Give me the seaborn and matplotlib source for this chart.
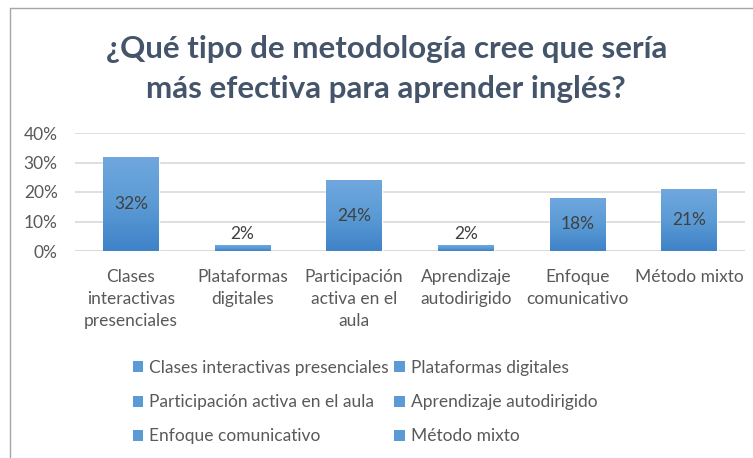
import matplotlib
matplotlib.use("Agg")
import matplotlib.pyplot as plt
import numpy as np
import pandas as pd
import seaborn as sns
from matplotlib.patches import Patch
from matplotlib.lines import Line2D

categories = [
    "Clases interactivas presenciales",
    "Plataformas digitales",
    "Participación activa en el aula",
    "Aprendizaje autodirigido",
    "Enfoque comunicativo",
    "Método mixto",
]
tick_labels = [
    "Clases\ninteractivas\npresenciales",
    "Plataformas\ndigitales",
    "Participación\nactiva en el\naula",
    "Aprendizaje\nautodirigido",
    "Enfoque\ncomunicativo",
    "Método mixto",
]
values = [0.32, 0.02, 0.24, 0.02, 0.18, 0.21]
y_ticks = [0, 0.1, 0.2, 0.3, 0.4]

sns.set_theme(style="white")
plt.rcParams["font.family"] = ["Lato", "DejaVu Sans"]

df = pd.DataFrame({"cat": categories, "val": values})

fig = plt.figure(figsize=(7.53, 4.58), dpi=100)
ax = fig.add_axes([75 / 753, 1 - 251 / 458, 670 / 753, 118 / 458])

sns.barplot(data=df, x="cat", y="val", color="#5B9BD5", width=0.5, ax=ax,
            saturation=1)

# vertical gradient on each bar
grad = np.linspace(0, 1, 256).reshape(-1, 1)
cmap = matplotlib.colors.LinearSegmentedColormap.from_list(
    "g", ["#3F82C7", "#5B9BD5", "#70A7DE"])
for bar in ax.patches:
    x0, y0 = bar.get_x(), bar.get_y()
    w, h = bar.get_width(), bar.get_height()
    im = ax.imshow(grad, extent=[x0, x0 + w, y0, y0 + h], origin="lower",
                   cmap=cmap, aspect="auto", zorder=bar.get_zorder())
    im.set_clip_path(bar)

ax.set_xlim(-0.5, len(categories) - 0.5)
ax.set_ylim(0, 0.4)
ax.set_yticks(y_ticks)
ax.set_yticklabels([f"{int(round(t * 100))}%" for t in y_ticks])
ax.set_xticks(range(len(categories)))
ax.set_xticklabels(tick_labels, linespacing=1.45)
ax.tick_params(axis="both", colors="#595959", labelsize=12.5, length=0)
ax.tick_params(axis="x", pad=13)
ax.tick_params(axis="y", pad=12.5)
ax.set_xlabel("")
ax.set_ylabel("")
ax.grid(axis="y", color="#D9D9D9", linewidth=1.2)
ax.set_axisbelow(True)
for s in ax.spines.values():
    s.set_visible(False)
ax.axhline(0, color="#D9D9D9", linewidth=1.2, zorder=0.5)

for i, v in enumerate(values):
    if v > 0.05:
        ax.text(i, v / 2, f"{int(round(v * 100))}%", ha="center", va="center",
                fontsize=12.5, color="#404040", zorder=5)
    else:
        ax.text(i, v + 0.012, f"{int(round(v * 100))}%", ha="center",
                va="bottom", fontsize=12.5, color="#404040", zorder=5)

fig.text(0.513, 1 - 49 / 458, "¿Qué tipo de metodología cree que sería",
         ha="center", va="center", fontsize=22.5, fontweight="bold",
         color="#44546A")
fig.text(0.513, 1 - 89 / 458, "más efectiva para aprender inglés?",
         ha="center", va="center", fontsize=22.5, fontweight="bold",
         color="#44546A")

handles = [Patch(facecolor="#5B9BD5", edgecolor="none", label=c)
           for c in categories]
order = [0, 2, 4, 1, 3, 5]
leg = fig.legend([handles[i] for i in order], [categories[i] for i in order],
                 ncol=2, loc="upper left", bbox_to_anchor=(133 / 753, 1 - 360 / 458),
                 frameon=False, fontsize=12.5, labelcolor="#595959",
                 handlelength=0.6, handleheight=0.6, handletextpad=0.35,
                 columnspacing=0.3, labelspacing=1.05, borderaxespad=0,
                 borderpad=0)

fig.add_artist(Line2D([10 / 753, 10 / 753], [0, 1 - 8 / 458],
                      transform=fig.transFigure, color="#A6A6A6", lw=1))
fig.add_artist(Line2D([10 / 753, 1], [1 - 8 / 458, 1 - 8 / 458],
                      transform=fig.transFigure, color="#A6A6A6", lw=1))

fig.savefig("out.png", dpi=100)
plt.close(fig)
